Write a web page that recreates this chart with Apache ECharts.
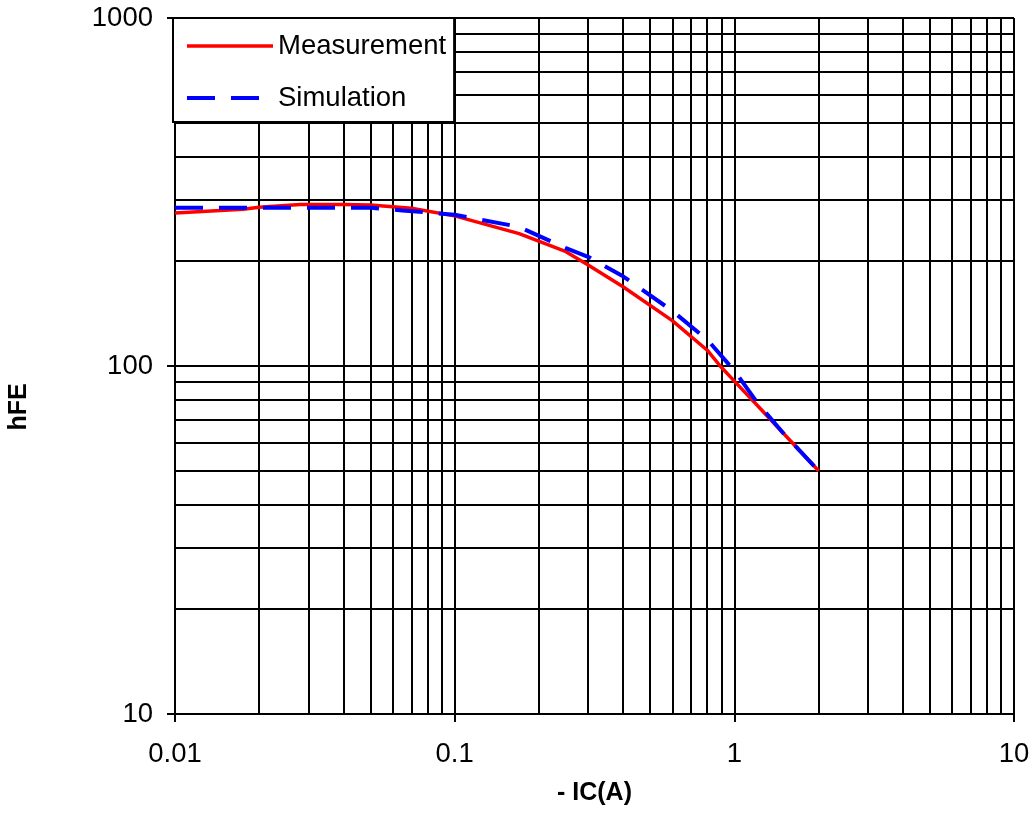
<!DOCTYPE html>
<html>
<head>
<meta charset="utf-8">
<script src="https://cdn.jsdelivr.net/npm/echarts@6/dist/echarts.min.js"></script>
<style>html,body{margin:0;padding:0;background:#fff}#c{width:1034px;height:814px}</style>
</head>
<body>
<div id="c"></div>
<script>
// Data
const icMeas  = [0.01, 0.0175, 0.02, 0.028, 0.04, 0.05, 0.07, 0.1, 0.17, 0.25, 0.3, 0.4, 0.6, 0.8, 0.89, 1.0, 1.2, 1.5, 2.0];
const hfeMeas = [275, 282, 286, 291, 291, 290, 284, 270, 240, 213, 195, 169, 135, 111, 100, 90.5, 77.5, 64, 50];
const icSim   = [0.01, 0.02, 0.03, 0.05, 0.065, 0.1, 0.17, 0.25, 0.3, 0.4, 0.6, 0.8, 1.0, 1.2, 1.5, 2.0];
const hfeSim  = [285, 285, 285, 285, 280, 272, 251, 218, 206, 181, 144, 119, 97, 79, 64, 50];
const xMinorGrid = [0.02,0.03,0.04,0.05,0.06,0.07,0.08,0.09,0.2,0.3,0.4,0.5,0.6,0.7,0.8,0.9,2,3,4,5,6,7,8,9];
const yMinorGrid = [20,30,40,50,60,70,80,90,200,300,400,500,600,700,800,900];
const xTickLabels = ['0.01','0.1','1','10'];
const yTickLabels = ['10','100','1000'];
const seriesNames = ['Measurement','Simulation'];

const FONT = '"Liberation Sans", Arial, sans-serif';
const RED = '#ff0000', BLUE = '#0000ff';
const measLine = {color:RED, width:3.5, type:'solid'};
const simLine = {color:BLUE, width:4, type:[28,16]};
const chart = echarts.init(document.getElementById('c'), null, {renderer:'canvas'});
const gridLine = {color:'#000', width:2, type:'solid'};
function lbl(list){ return function(v){ const s = String(+(+v).toPrecision(6)); return list.indexOf(s) >= 0 ? s : ''; }; }

chart.setOption({
  animation:false,
  backgroundColor:'#fff',
  grid:{left:175, right:20, top:18, bottom:100, containLabel:false, outerBoundsMode:'none'},
  legend:{
    data:[
      {name:seriesNames[0], lineStyle:measLine},
      {name:seriesNames[1], lineStyle:simLine}
    ],
    orient:'vertical', left:173, top:18,
    backgroundColor:'#fff', borderColor:'#000', borderWidth:2, borderRadius:0,
    padding:[14,8,10,12], itemGap:24, itemWidth:86, itemHeight:26,
    itemStyle:{opacity:0, borderWidth:0},
    textStyle:{fontFamily:FONT, fontSize:27.5, color:'#000'},
    z:10
  },
  xAxis:{
    type:'log', logBase:10, min:0.01, max:10,
    name:'- IC(A)', nameLocation:'middle', nameGap:67,
    nameTextStyle:{fontFamily:FONT, fontSize:25, fontWeight:'bold', color:'#000'},
    axisLine:{show:true, lineStyle:{color:'#000', width:2}},
    axisTick:{show:true, length:8, inside:false, lineStyle:{color:'#000', width:2}},
    axisLabel:{fontFamily:FONT, fontSize:27.5, color:'#000', margin:26, formatter:lbl(xTickLabels)},
    splitLine:{show:true, lineStyle:gridLine},
    minorTick:{show:false}, minorSplitLine:{show:false}
  },
  yAxis:{
    type:'log', logBase:10, min:10, max:1000,
    name:'hFE', nameLocation:'middle', nameGap:143, nameRotate:90,
    nameTextStyle:{fontFamily:FONT, fontSize:25, fontWeight:'bold', color:'#000', padding:[0,82,0,0]},
    axisLine:{show:true, lineStyle:{color:'#000', width:2}},
    axisTick:{show:true, length:8, inside:false, lineStyle:{color:'#000', width:2}},
    axisLabel:{fontFamily:FONT, fontSize:27.5, color:'#000', margin:22, formatter:lbl(yTickLabels)},
    splitLine:{show:true, lineStyle:gridLine},
    minorTick:{show:false}, minorSplitLine:{show:false}
  },
  series:[
    {
      name:'grid', type:'line', z:1, silent:true, symbol:'none',
      data:[[0.01,10]], lineStyle:{opacity:0},
      markLine:{
        silent:true, symbol:['none','none'], animation:false,
        label:{show:false}, lineStyle:gridLine,
        emphasis:{disabled:true},
        data:xMinorGrid.map(v=>({xAxis:v})).concat(yMinorGrid.map(v=>({yAxis:v})))
      }
    },
    {
      name:seriesNames[0], type:'line', z:5, symbol:'none', showSymbol:false, smooth:false,
      data:icMeas.map((x,i)=>[x,hfeMeas[i]]),
      lineStyle:measLine, itemStyle:{color:RED}
    },
    {
      name:seriesNames[1], type:'line', z:6, symbol:'none', showSymbol:false, smooth:false,
      data:icSim.map((x,i)=>[x,hfeSim[i]]),
      lineStyle:simLine, itemStyle:{color:BLUE}
    }
  ]
});
</script>
</body>
</html>
